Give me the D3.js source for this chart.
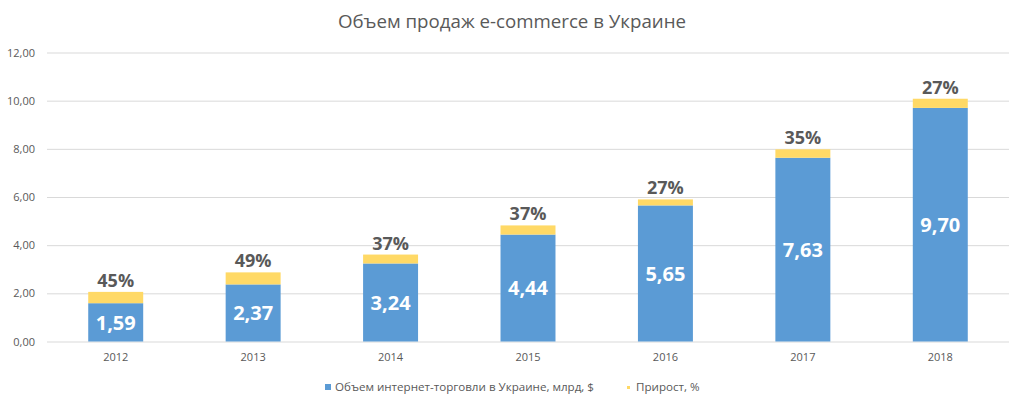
<!DOCTYPE html>
<html><head><meta charset="utf-8">
<script src="https://cdn.jsdelivr.net/npm/d3@7"></script>
<style>body{margin:0;background:#fff}svg{display:block}</style>
</head><body>
<script>
const years = ["2012","2013","2014","2015","2016","2017","2018"];
const volume = [1.59, 2.37, 3.24, 4.44, 5.65, 7.63, 9.70];
const growthBar = [0.47, 0.50, 0.37, 0.38, 0.25, 0.35, 0.38];
const growthLabels = ["45%","49%","37%","37%","27%","35%","27%"];
const yTicks = [0, 2, 4, 6, 8, 10, 12];
const title = "Объем продаж e-commerce в Украине";
const legendNames = ["Объем интернет-торговли в Украине, млрд, $", "Прирост, %"];

const W = 1024, H = 409;
const font = "'Open Sans', 'Segoe UI', sans-serif";
const blue = "#5B9BD5", yellow = "#FFD966", txt = "#595959";
const svg = d3.select("body").append("svg").attr("width", W).attr("height", H);

const x = d3.scaleBand().domain(years).range([47, 1009]).paddingInner(0.6).paddingOuter(0.3);
const y = d3.scaleLinear().domain([0, 12]).range([341.5, 52.5]);

svg.append("text").attr("x", 512).attr("y", 28).attr("text-anchor", "middle")
  .attr("font-family", font).attr("font-size", 18.7).attr("fill", txt).text(title);

// grid
const gy = svg.append("g").attr("transform", "translate(47,0)")
  .call(d3.axisLeft(y).tickValues(yTicks).tickSize(-962).tickPadding(12)
    .tickFormat(d => d3.format(".2f")(d).replace(".", ",")));
gy.select(".domain").remove();
gy.selectAll(".tick line").attr("stroke", "#d9d9d9");
gy.selectAll(".tick text").attr("font-family", font).attr("font-size", 11).attr("fill", txt);

const gx = svg.append("g").attr("transform", "translate(0,341.5)")
  .call(d3.axisBottom(x).tickSize(0).tickPadding(12));
gx.select(".domain").remove();
gx.selectAll(".tick text").attr("font-family", font).attr("font-size", 11).attr("fill", txt);

const data = years.map((yr, i) => ({yr, v: volume[i], g: growthBar[i], lab: growthLabels[i]}));

svg.selectAll(".b").data(data).enter().append("rect")
  .attr("x", d => x(d.yr)).attr("width", x.bandwidth())
  .attr("y", d => y(d.v)).attr("height", d => y(0) - y(d.v)).attr("fill", blue);
svg.selectAll(".g").data(data).enter().append("rect")
  .attr("x", d => x(d.yr)).attr("width", x.bandwidth())
  .attr("y", d => y(d.v + d.g)).attr("height", d => y(d.v) - y(d.v + d.g)).attr("fill", yellow);

svg.selectAll(".vl").data(data).enter().append("text")
  .attr("x", d => x(d.yr) + x.bandwidth() / 2).attr("y", d => (y(d.v) + y(0)) / 2)
  .attr("dy", "0.36em").attr("text-anchor", "middle")
  .attr("font-family", font).attr("font-weight", "bold").attr("font-size", 20).attr("fill", "#fff")
  .text(d => d3.format(".2f")(d.v).replace(".", ","));
svg.selectAll(".gl").data(data).enter().append("text")
  .attr("x", d => x(d.yr) + x.bandwidth() / 2).attr("y", d => y(d.v + d.g) - 5)
  .attr("text-anchor", "middle")
  .attr("font-family", font).attr("font-weight", "bold").attr("font-size", 18).attr("fill", txt)
  .text(d => d.lab);

// legend
const lg = svg.append("g");
lg.append("rect").attr("x", 325).attr("y", 384).attr("width", 6).attr("height", 6).attr("fill", blue);
lg.append("text").attr("x", 335).attr("y", 391).attr("font-family", font).attr("font-size", 11.6).attr("fill", txt).text(legendNames[0]);
lg.append("rect").attr("x", 627).attr("y", 386).attr("width", 3).attr("height", 3).attr("fill", yellow);
lg.append("text").attr("x", 636).attr("y", 391).attr("font-family", font).attr("font-size", 11.6).attr("fill", txt).text(legendNames[1]);
</script>
</body></html>
